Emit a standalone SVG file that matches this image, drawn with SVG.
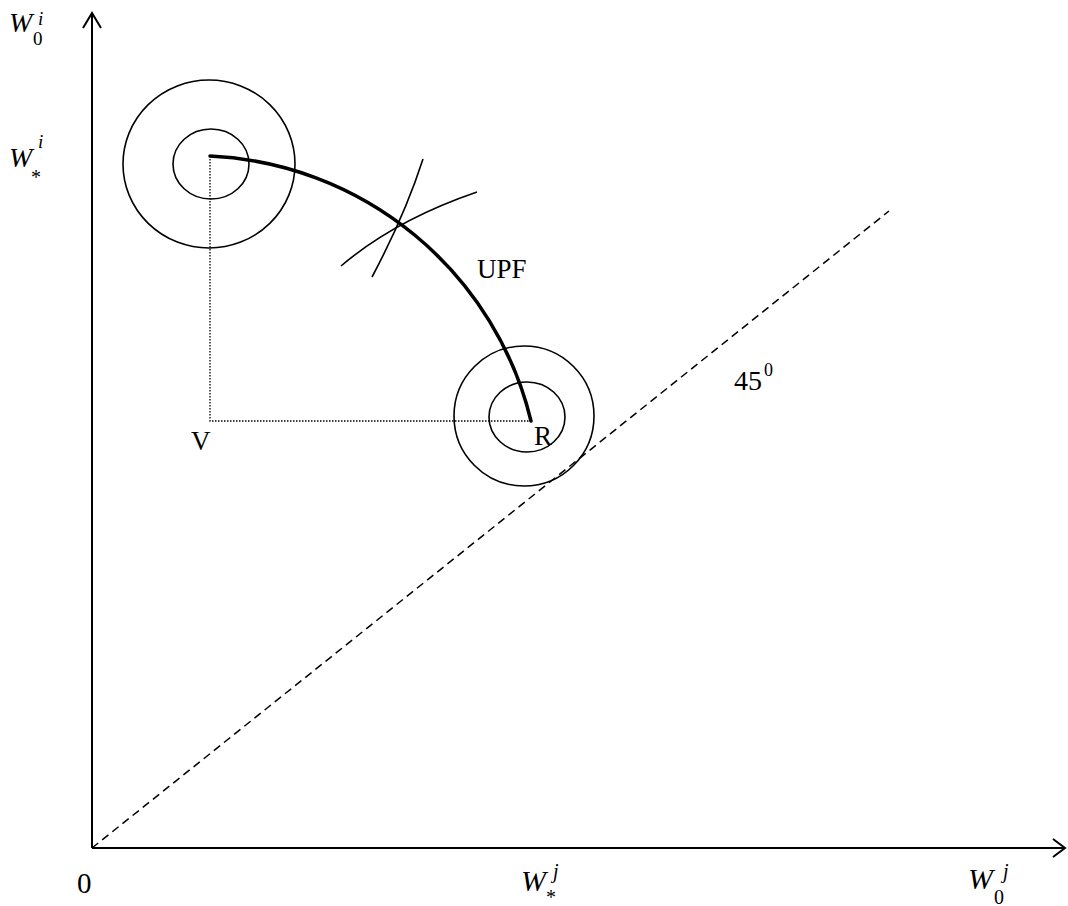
<svg xmlns="http://www.w3.org/2000/svg" width="1068" height="906" viewBox="0 0 1068 906">
<style>
.ax{fill:none;stroke:#000;stroke-width:2}
.c{fill:none;stroke:#000;stroke-width:1.6}
.upf{fill:none;stroke:#000;stroke-width:3.5;stroke-linecap:round}
.dot{fill:none;stroke:#000;stroke-width:1.3;stroke-dasharray:1.5 1.5}
.dash{fill:none;stroke:#000;stroke-width:1.5;stroke-dasharray:8 5}
text{font-family:"Liberation Serif","Times New Roman",serif;fill:#000}
.it{font-style:italic}
</style>
<rect width="1068" height="906" fill="#fff"/>
<g id="connectors">
<path class="ax" d="M92,848 V13 M83,28 L92,13 L101,28"/>
<path class="ax" d="M92,848 H1065 M1053,839 L1065,848 L1053,857"/>
<path class="dash" d="M92,848 L889,211"/>
<path class="dot" d="M210,156 V421 H530"/>
<path class="upf" d="M210,156 A347,347 0 0 1 531,421"/>
<path class="c" d="M341,266 Q395,220 477,192"/>
<path class="c" d="M372,277 Q405,215 423,159"/>
</g>
<g id="node-v-circles">
<ellipse class="c" cx="209" cy="164" rx="86" ry="84"/>
<ellipse class="c" cx="211" cy="164" rx="38" ry="35"/>
</g>
<g id="node-r-circles">
<ellipse class="c" cx="524" cy="416" rx="70" ry="70"/>
<ellipse class="c" cx="527" cy="417" rx="38" ry="35"/>
</g>
<g id="labels">
<text x="9" y="32" font-size="28" class="it">W</text>
<text x="33" y="45" font-size="19">0</text>
<text x="38" y="25" font-size="19" class="it">i</text>
<text x="9" y="167" font-size="28" class="it">W</text>
<text x="31" y="184" font-size="20">*</text>
<text x="38" y="148" font-size="19" class="it">i</text>
<text x="77" y="893" font-size="29">0</text>
<text x="521" y="891" font-size="30" class="it">W</text>
<text x="546" y="904" font-size="20">*</text>
<text x="553" y="878" font-size="20" class="it">j</text>
<text x="968" y="889" font-size="30" class="it">W</text>
<text x="994" y="904" font-size="20">0</text>
<text x="1003" y="878" font-size="20" class="it">j</text>
<text x="191" y="450" font-size="27">V</text>
<text x="534" y="445" font-size="27">R</text>
<text x="477" y="278" font-size="27">UPF</text>
<text x="734" y="390" font-size="28">45</text>
<text x="764" y="376" font-size="18">0</text>
</g>
</svg>
